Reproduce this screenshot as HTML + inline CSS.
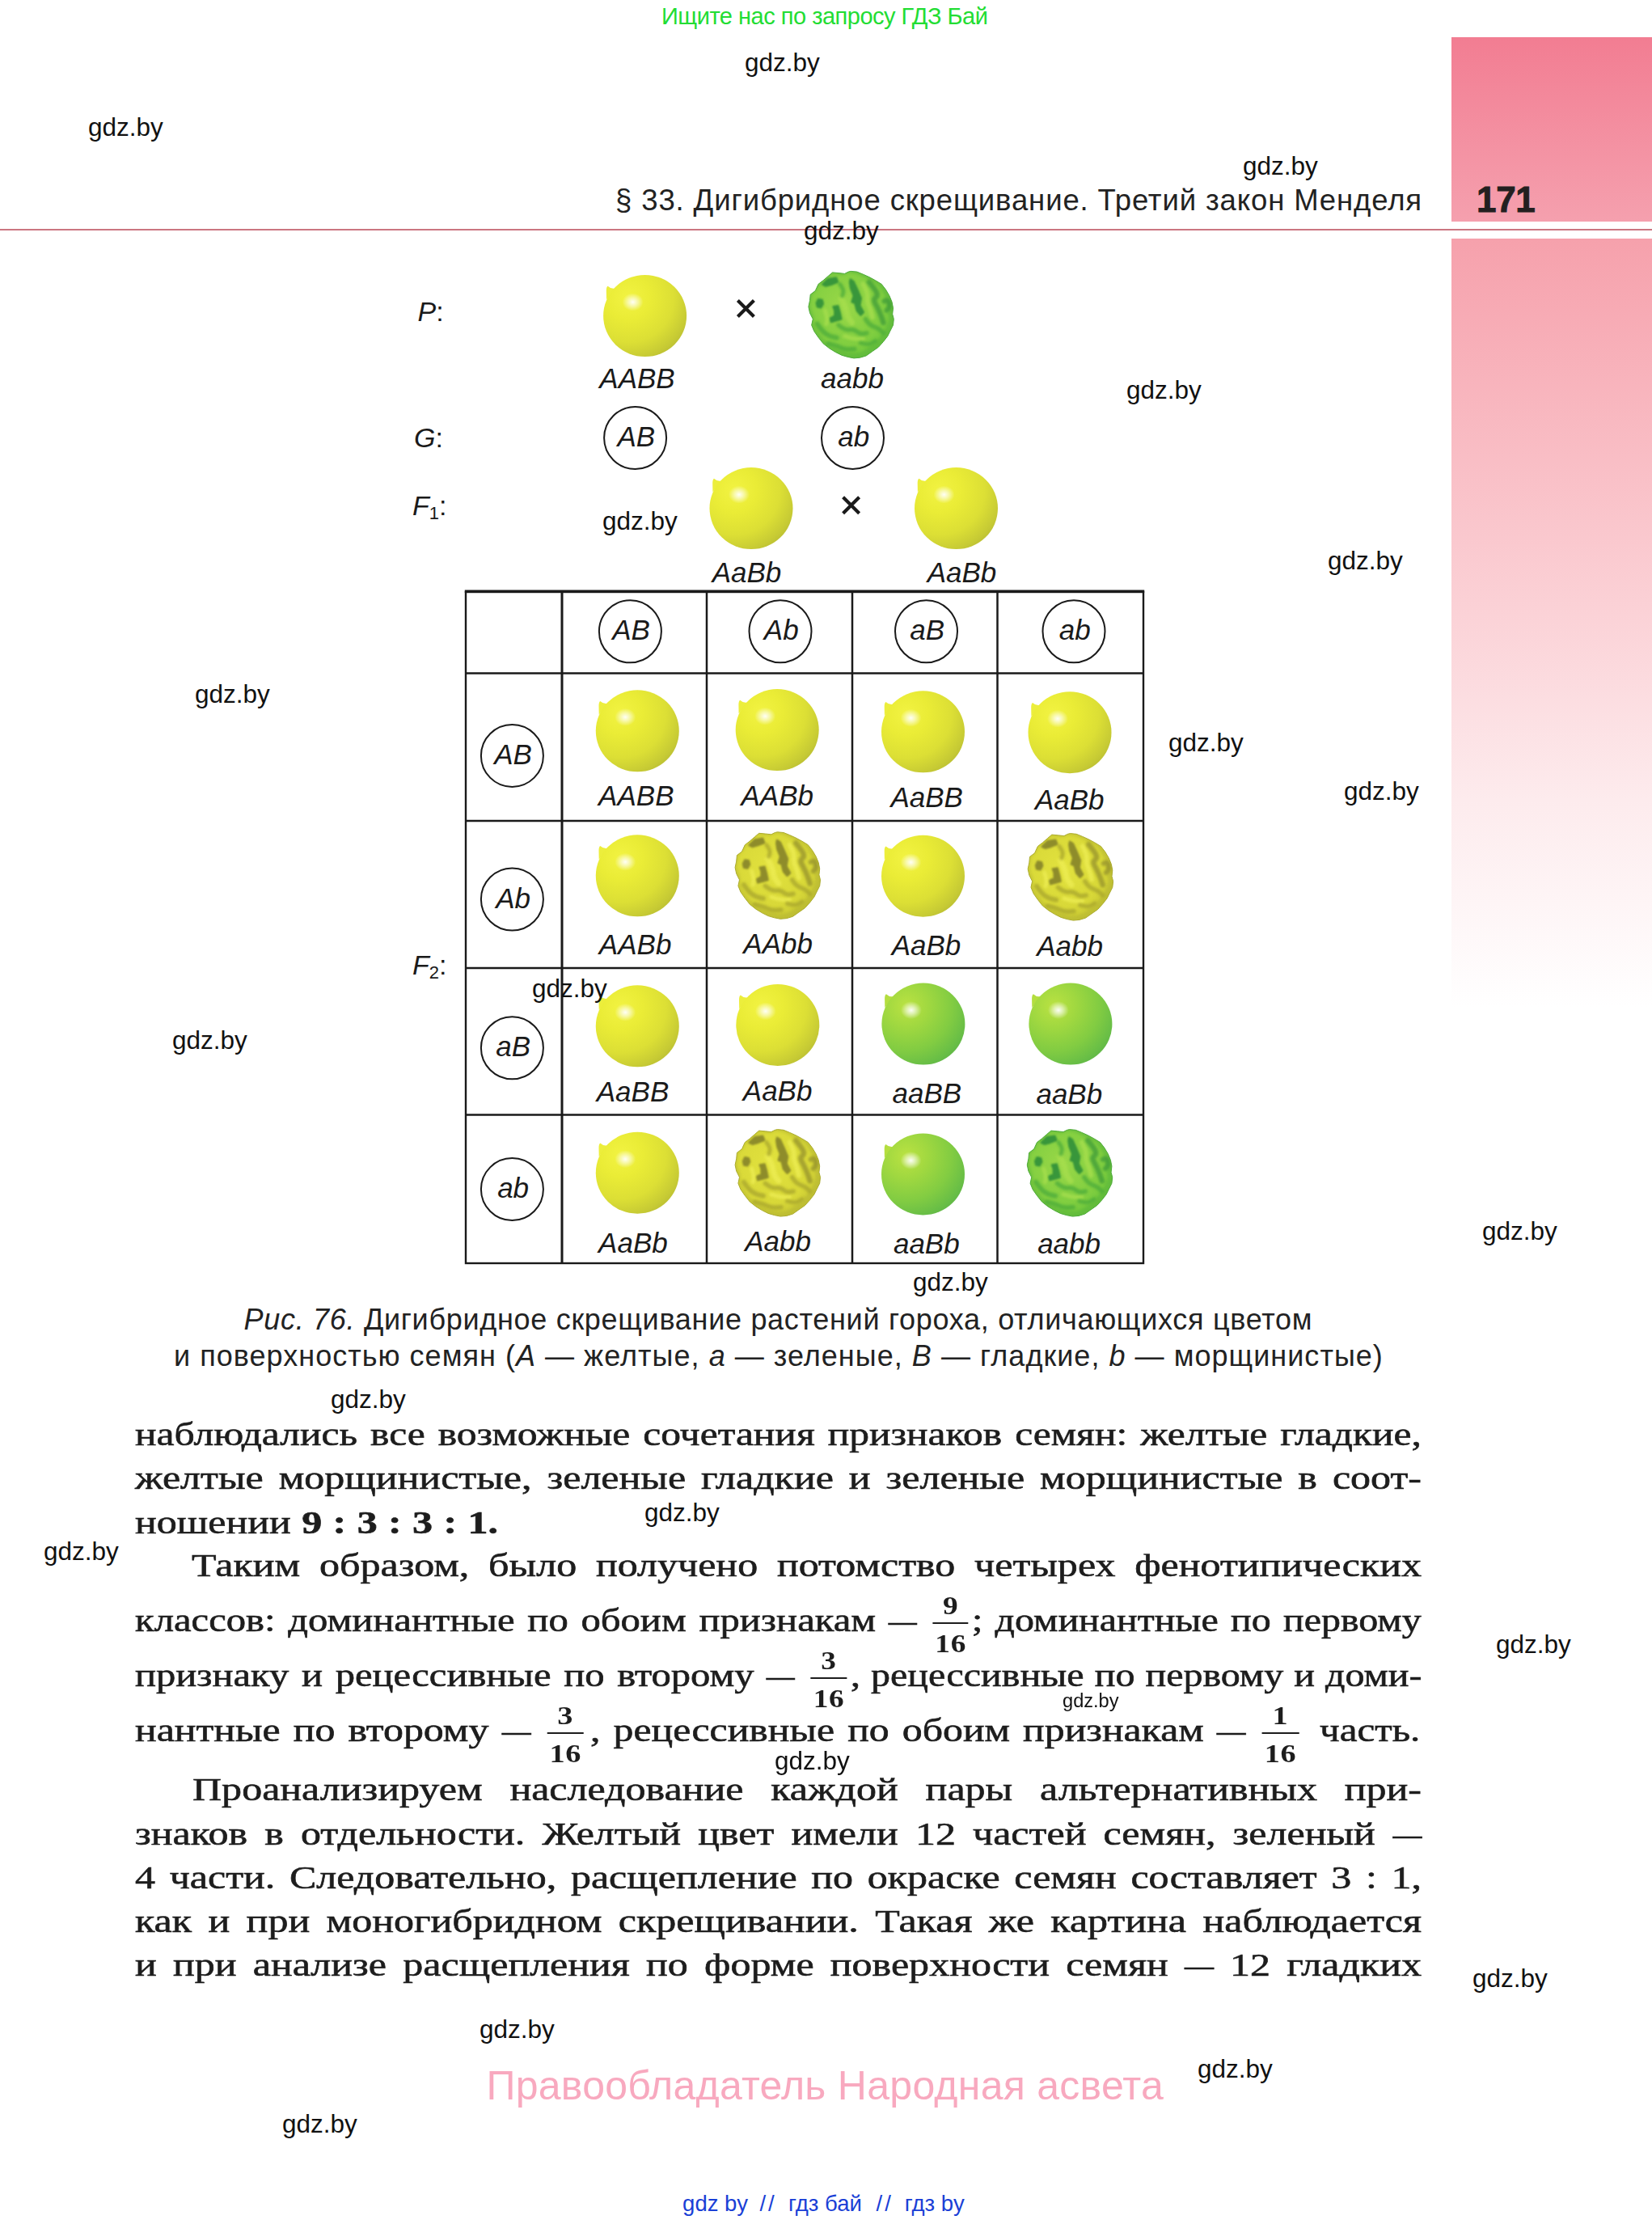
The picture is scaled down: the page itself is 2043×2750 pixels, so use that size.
<!DOCTYPE html>
<html><head><meta charset="utf-8"><title>page 171</title>
<style>
*{margin:0;padding:0;box-sizing:border-box}
html,body{width:2043px;height:2750px;background:#fff;overflow:hidden}
body{position:relative;font-family:"Liberation Sans",sans-serif;color:#1a1a1a}
.abs{position:absolute;white-space:nowrap;line-height:1}
.wm{position:absolute;white-space:nowrap;line-height:1;color:#111;font-family:"Liberation Sans",sans-serif}
.bl{position:absolute;white-space:nowrap;font-family:"Liberation Serif",serif;font-size:41px;line-height:1;color:#1d1d1d;transform-origin:0 0;-webkit-text-stroke:0.6px #1d1d1d}
.fr{display:inline-block;position:relative;height:1px;vertical-align:baseline;font-weight:bold;font-size:31.5px;line-height:1;text-align:center;word-spacing:0;-webkit-text-stroke:0}
.fn,.fd{position:absolute;left:0;right:0;text-align:center;letter-spacing:0.5px}
.fn{bottom:15px}
.d{display:inline-block;width:0.72em;transform:scaleX(0.72);transform-origin:0 50%}
.fd{top:1.5px}
.fb{position:absolute;left:3.3px;right:3.3px;top:-10px;height:2px;background:#1d1d1d}
</style></head>
<body>
<div style="position:absolute;left:1795px;top:46px;width:248px;height:228px;background:linear-gradient(#f27d92,#f5a0ae)"></div>
<div style="position:absolute;left:1795px;top:295px;width:248px;height:950px;background:linear-gradient(#f6a1ac 0%,#fbd1d6 48%,#fdebed 73%,#fff 100%)"></div>
<div style="position:absolute;left:0;top:283px;width:2043px;height:2px;background:#cb7681"></div>
<div class="abs" id="topg" style="left:818px;top:6px;font-size:29px;letter-spacing:-0.5px;color:#22dd33">Ищите нас по запросу ГДЗ Бай</div>
<div class="abs" id="hdr" style="right:284px;top:230.2px;font-size:36.5px;color:#222;letter-spacing:0.87px">§ 33. Дигибридное скрещивание. Третий закон Менделя</div>
<div class="abs" id="pgn" style="left:1826px;top:224.5px;font-size:44px;font-weight:bold;color:#231f20;-webkit-text-stroke:0.9px #231f20;letter-spacing:-0.3px">171</div>
<div class="abs" id="ftp" style="left:601.5px;top:2553.6px;font-size:50px;letter-spacing:0.27px;color:#f8a9bf">Правообладатель Народная асвета</div>
<div class="abs" id="ftb0" style="left:844.1px;top:2710.5px;font-size:27.5px;color:#1a3fd6;letter-spacing:0px">gdz by</div>
<div class="abs" id="ftb1" style="left:939.4px;top:2710.5px;font-size:27.5px;color:#1a3fd6;letter-spacing:3px">//</div>
<div class="abs" id="ftb2" style="left:975.0px;top:2710.5px;font-size:27.5px;color:#1a3fd6;letter-spacing:0px">гдз бай</div>
<div class="abs" id="ftb3" style="left:1083.6px;top:2710.5px;font-size:27.5px;color:#1a3fd6;letter-spacing:3px">//</div>
<div class="abs" id="ftb4" style="left:1118.7px;top:2710.5px;font-size:27.5px;color:#1a3fd6;letter-spacing:0px">гдз by</div>
<div class="abs" id="cap1" style="left:301.5px;top:1613.5px;font-size:36px;letter-spacing:0.70px;color:#222"><i>Рис. 76.</i> Дигибридное скрещивание растений гороха, отличающихся цветом</div>
<div class="abs" id="cap2" style="left:215px;top:1658.9px;font-size:36px;letter-spacing:1.03px;color:#222">и поверхностью семян (<i>A</i> — желтые, <i>a</i> — зеленые, <i>B</i> — гладкие, <i>b</i> — морщинистые)</div>
<div class="bl" id="L0" style="left:167px;top:1753.2px;word-spacing:3.00px;transform:scaleX(1.2080)">наблюдались все возможные сочетания признаков семян: желтые гладкие,</div>
<div class="bl" id="L1" style="left:167px;top:1807.4px;word-spacing:5.25px;transform:scaleX(1.2200)">желтые морщинистые, зеленые гладкие и зеленые морщинистые в соот-</div>
<div class="bl" id="L2" style="left:167px;top:1861.7px;word-spacing:0.72px;transform:scaleX(1.2200)">ношении <b>9 : 3 : 3 : 1.</b></div>
<div class="bl" id="L3" style="left:237px;top:1915.4px;word-spacing:9.23px;transform:scaleX(1.2200)">Таким образом, было получено потомство четырех фенотипических</div>
<div class="bl" id="L4" style="left:167px;top:1982.9px;word-spacing:3.00px;transform:scaleX(1.1870)">классов: доминантные по обоим признакам <span class="d">—</span> <span class="fr" style="width:44px"><span class="fn">9</span><span class="fb"></span><span class="fd">16</span></span></div>
<div class="bl" id="L5" style="left:1202.3px;top:1982.9px;word-spacing:2.78px;transform:scaleX(1.1700)">; доминантные по первому</div>
<div class="bl" id="L6" style="left:167px;top:2050.7px;word-spacing:3.00px;transform:scaleX(1.1849)">признаку и рецессивные по второму <span class="d">—</span> <span class="fr" style="width:44px"><span class="fn">3</span><span class="fb"></span><span class="fd">16</span></span></div>
<div class="bl" id="L7" style="left:1051.5px;top:2050.7px;word-spacing:0.94px;transform:scaleX(1.1700)">, рецессивные по первому и доми-</div>
<div class="bl" id="L8" style="left:167px;top:2118.5px;word-spacing:3.00px;transform:scaleX(1.2165)">нантные по второму <span class="d">—</span> <span class="fr" style="width:44px"><span class="fn">3</span><span class="fb"></span><span class="fd">16</span></span></div>
<div class="bl" id="L9" style="left:729.5px;top:2118.5px;word-spacing:3.00px;transform:scaleX(1.2143)">, рецессивные по обоим признакам <span class="d">—</span> <span class="fr" style="width:44px"><span class="fn">1</span><span class="fb"></span><span class="fd">16</span></span></div>
<div class="bl" id="L10" style="left:1631.7px;top:2118.5px;word-spacing:0.00px;transform:scaleX(1.1965)">часть.</div>
<div class="bl" id="L11" style="left:238px;top:2191.7px;word-spacing:17.48px;transform:scaleX(1.2200)">Проанализируем наследование каждой пары альтернативных при-</div>
<div class="bl" id="L12" style="left:167px;top:2246.8px;word-spacing:7.05px;transform:scaleX(1.2200)">знаков в отдельности. Желтый цвет имели 12 частей семян, зеленый <span class="d">—</span></div>
<div class="bl" id="L13" style="left:167px;top:2301.0px;word-spacing:4.20px;transform:scaleX(1.2200)">4 части. Следовательно, расщепление по окраске семян составляет 3 : 1,</div>
<div class="bl" id="L14" style="left:167px;top:2354.9px;word-spacing:6.47px;transform:scaleX(1.2200)">как и при моногибридном скрещивании. Такая же картина наблюдается</div>
<div class="bl" id="L15" style="left:167px;top:2408.7px;word-spacing:6.32px;transform:scaleX(1.2200)">и при анализе расщепления по форме поверхности семян <span class="d">—</span> 12 гладких</div>
<svg width="2043" height="1650" viewBox="0 0 2043 1650" style="position:absolute;left:0;top:0" font-family="Liberation Sans, sans-serif" fill="#1a1a1a"><defs><radialGradient id="gy" cx="0.30" cy="0.28" r="0.88" fx="0.30" fy="0.28">
<stop offset="0" stop-color="#f2f342"/><stop offset="0.3" stop-color="#eaec36"/><stop offset="0.62" stop-color="#dcdf35"/><stop offset="0.85" stop-color="#c6ca34"/><stop offset="1" stop-color="#b2b632"/></radialGradient>
<radialGradient id="gg" cx="0.30" cy="0.28" r="0.88" fx="0.30" fy="0.28">
<stop offset="0" stop-color="#bae242"/><stop offset="0.3" stop-color="#a0d840"/><stop offset="0.62" stop-color="#82cc42"/><stop offset="0.85" stop-color="#68be46"/><stop offset="1" stop-color="#58b048"/></radialGradient>
<radialGradient id="hl" cx="0.5" cy="0.5" r="0.5"><stop offset="0" stop-color="#fff" stop-opacity="0.95"/><stop offset="0.45" stop-color="#fff" stop-opacity="0.55"/><stop offset="1" stop-color="#fff" stop-opacity="0"/></radialGradient>
<radialGradient id="gyw" cx="0.42" cy="0.4" r="0.7"><stop offset="0" stop-color="#e2e23e"/><stop offset="0.65" stop-color="#d8d838"/><stop offset="1" stop-color="#bebe32"/></radialGradient>
<radialGradient id="ggw" cx="0.42" cy="0.4" r="0.7"><stop offset="0" stop-color="#9ad848"/><stop offset="0.65" stop-color="#80ce40"/><stop offset="1" stop-color="#62c23a"/></radialGradient>
<g id="py"><path d="M-37,-34 Q-42,-33 -46,-36.8 Q-47.8,-35.5 -47.8,-31 L-47.6,-20 Z" fill="#ecee3c"/>
<ellipse cx="0" cy="0" rx="51.5" ry="50.5" fill="url(#gy)"/>
<ellipse cx="-15" cy="-17" rx="13" ry="11" fill="url(#hl)"/></g><g id="pg"><path d="M-37,-34 Q-42,-33 -46,-36.8 Q-47.8,-35.5 -47.8,-31 L-47.6,-20 Z" fill="#b4de40"/>
<ellipse cx="0" cy="0" rx="51.5" ry="50.5" fill="url(#gg)"/>
<ellipse cx="-15" cy="-17" rx="13" ry="11" fill="url(#hl)"/></g><filter id="bl1" x="-20%" y="-20%" width="140%" height="140%"><feGaussianBlur stdDeviation="1.1"/></filter><filter id="bl2" x="-20%" y="-20%" width="140%" height="140%"><feGaussianBlur stdDeviation="1.8"/></filter><clipPath id="wclip"><path d="M-0.4,-53.6L7.2,-52.9L14.8,-49.8L22.3,-46.4L29.9,-42.3L37.5,-37.7L42.8,-30.9L47.3,-23.3L50.4,-15.8L51.9,-8.2L51.1,-0.6L52.7,5.5L51.9,13.0L48.1,20.6L45.1,26.7L39.8,33.5L33.7,40.3L26.1,45.6L18.6,50.9L11.0,53.2L3.4,53.9L-4.2,52.4L-11.7,50.2L-19.3,46.4L-26.9,41.8L-34.5,35.8L-40.5,28.2L-45.8,20.6L-48.9,13.0L-47.3,5.5L-51.1,-2.1L-52.7,-9.7L-51.1,-17.3L-50.4,-24.8L-44.3,-29.4L-40.5,-37.7L-34.5,-42.3L-28.4,-47.6L-23.1,-52.1L-15.5,-51.4L-8.0,-50.6L-3.4,-52.9Z"/></clipPath><g id="pyw"><path d="M-0.4,-53.6L7.2,-52.9L14.8,-49.8L22.3,-46.4L29.9,-42.3L37.5,-37.7L42.8,-30.9L47.3,-23.3L50.4,-15.8L51.9,-8.2L51.1,-0.6L52.7,5.5L51.9,13.0L48.1,20.6L45.1,26.7L39.8,33.5L33.7,40.3L26.1,45.6L18.6,50.9L11.0,53.2L3.4,53.9L-4.2,52.4L-11.7,50.2L-19.3,46.4L-26.9,41.8L-34.5,35.8L-40.5,28.2L-45.8,20.6L-48.9,13.0L-47.3,5.5L-51.1,-2.1L-52.7,-9.7L-51.1,-17.3L-50.4,-24.8L-44.3,-29.4L-40.5,-37.7L-34.5,-42.3L-28.4,-47.6L-23.1,-52.1L-15.5,-51.4L-8.0,-50.6L-3.4,-52.9Z" fill="url(#gyw)" stroke="#acac30" stroke-width="1" stroke-linejoin="round"/><g clip-path="url(#wclip)"><path d="M-1.9,-53.3Q-0.4,-53.6 3.4,-53.3Q7.2,-52.9 11.0,-51.4Q14.8,-49.8 18.6,-48.1Q22.3,-46.4 26.1,-44.4Q29.9,-42.3 33.7,-40.0Q37.5,-37.7 40.2,-34.3Q42.8,-30.9 45.1,-27.1Q47.3,-23.3 48.9,-19.5Q50.4,-15.8 51.1,-12.0Q51.9,-8.2 51.5,-4.4Q51.1,-0.6 51.9,2.4Q52.7,5.5 52.3,9.2Q51.9,13.0 50.0,16.8Q48.1,20.6 46.6,23.6Q45.1,26.7 42.4,30.1Q39.8,33.5 36.7,36.9Q33.7,40.3 29.9,43.0Q26.1,45.6 22.3,48.3Q18.6,50.9 14.8,52.0Q11.0,53.2 7.2,53.6Q3.4,53.9 -0.4,53.2Q-4.2,52.4 -8.0,51.3Q-11.7,50.2 -15.5,48.3Q-19.3,46.4 -23.1,44.1Q-26.9,41.8 -30.7,38.8Q-34.5,35.8 -37.5,32.0Q-40.5,28.2 -43.2,24.4Q-45.8,20.6 -47.3,16.8Q-48.9,13.0 -48.1,9.2Q-47.3,5.5 -49.2,1.7Q-51.1,-2.1 -51.9,-5.9Q-52.7,-9.7 -51.9,-13.5Q-51.1,-17.3 -50.8,-21.1Q-50.4,-24.8 -47.3,-27.1Q-44.3,-29.4 -42.4,-33.6Q-40.5,-37.7 -37.5,-40.0Q-34.5,-42.3 -31.4,-44.9Q-28.4,-47.6 -25.8,-49.8Q-23.1,-52.1 -19.3,-51.7Q-15.5,-51.4 -11.7,-51.0Q-8.0,-50.6 -5.7,-51.7Q-3.4,-52.9 -1.9,-53.3Z" fill="none" stroke="#acac30" stroke-width="8" opacity="0.35" filter="url(#bl2)" transform="translate(-2,-2)"/><g filter="url(#bl2)" opacity="0.8"><path d="M14.8,-37.7Q20.8,-27.1 20.1,-22.2Q19.3,-17.3 21.6,-12.0Q23.9,-6.7 25.0,-1.7L26.1,3.2" fill="none" stroke="#ecec52" stroke-width="6" stroke-linecap="round"/><path d="M-12.5,-20.3Q-6.4,-9.7 -5.7,-3.6Q-4.9,2.4 -1.9,6.2L1.1,10.0" fill="none" stroke="#ecec52" stroke-width="7" stroke-linecap="round"/><path d="M-32.2,-5.2Q-29.2,3.9 -29.9,7.7L-30.7,11.5" fill="none" stroke="#ecec52" stroke-width="5" stroke-linecap="round"/><path d="M-8.0,26.7Q3.4,30.5 9.1,30.1L14.8,29.7" fill="none" stroke="#ecec52" stroke-width="5" stroke-linecap="round"/></g><g filter="url(#bl2)" opacity="0.85"><path d="M22.3,-40.0Q29.9,-30.9 31.6,-27.1Q33.3,-23.3 30.3,-20.9Q27.3,-18.4 29.5,-14.4Q31.8,-10.5 34.7,-4.0Q37.5,2.4 38.6,6.2L39.8,10.0" fill="none" stroke="#8e8c2a" stroke-width="6.5" stroke-linecap="round" opacity="0.8"/><path d="M40.9,-16.5Q45.1,-19.5 46.6,-14.6Q48.1,-9.7 46.0,-7.4L43.9,-5.2" fill="none" stroke="#8e8c2a" stroke-width="6" stroke-linecap="round" opacity="0.8"/><path d="M-42.0,11.5Q-36.0,20.6 -31.4,23.6Q-26.9,26.7 -22.3,27.6L-17.8,28.6" fill="none" stroke="#a8a62e" stroke-width="6" stroke-linecap="round" opacity="0.9"/><path d="M-15.5,13.0Q-8.0,19.5 -2.3,18.7Q3.4,18.0 7.2,21.2Q11.0,24.4 15.2,23.6L19.3,22.9" fill="none" stroke="#a8a62e" stroke-width="5.5" stroke-linecap="round" opacity="0.9"/><path d="M17.8,5.5Q22.3,13.0 28.0,14.9Q33.7,16.8 36.7,19.8L39.8,22.9" fill="none" stroke="#a8a62e" stroke-width="5.5" stroke-linecap="round" opacity="0.9"/><path d="M-28.4,35.8Q-18.6,38.0 -13.3,40.7Q-8.0,43.3 -1.9,43.0L4.2,42.6" fill="none" stroke="#a8a62e" stroke-width="5.5" stroke-linecap="round" opacity="0.9"/><path d="M11.7,35.0Q20.8,38.0 25.4,35.4L29.9,32.7" fill="none" stroke="#a8a62e" stroke-width="5" stroke-linecap="round" opacity="0.9"/><path d="M-14.0,-37.7Q-8.7,-30.9 -9.8,-27.1L-11.0,-23.3" fill="none" stroke="#a8a62e" stroke-width="5" stroke-linecap="round" opacity="0.9"/></g><g filter="url(#bl1)"><path d="M-35.2,-37.3L-28.4,-43.8L-18.6,-45.5L-16.7,-40.4L-24.6,-37.3L-31.4,-35.5Z" fill="#8e8c2a" stroke="#8e8c2a" stroke-width="2.6" stroke-linejoin="round"/><path d="M-0.8,-43.4L3.0,-40.8L7.6,-30.9L12.1,-20.3L10.6,-11.2L15.2,-2.9L11.7,0.5L7.2,-4.8L4.8,-14.2L1.0,-15.6L3.3,-23.3L-0.4,-32.4L-1.5,-40.0Z" fill="#8e8c2a" stroke="#8e8c2a" stroke-width="2.6" stroke-linejoin="round"/><path d="M-42.8,-14.2L-40.5,-18.8L-36.0,-18.0L-34.8,-13.5L-37.5,-8.9L-41.7,-9.7Z" fill="#8e8c2a" stroke="#8e8c2a" stroke-width="2.6" stroke-linejoin="round"/><path d="M-22.0,-9.7L-16.3,-10.6L-13.9,-2.1L-12.3,5.5L-18.6,7.3L-24.6,8.9L-25.5,4.7L-20.1,1.7L-20.2,-5.2Z" fill="#8e8c2a" stroke="#8e8c2a" stroke-width="2.6" stroke-linejoin="round"/></g></g></g><g id="pgw"><path d="M-0.4,-53.6L7.2,-52.9L14.8,-49.8L22.3,-46.4L29.9,-42.3L37.5,-37.7L42.8,-30.9L47.3,-23.3L50.4,-15.8L51.9,-8.2L51.1,-0.6L52.7,5.5L51.9,13.0L48.1,20.6L45.1,26.7L39.8,33.5L33.7,40.3L26.1,45.6L18.6,50.9L11.0,53.2L3.4,53.9L-4.2,52.4L-11.7,50.2L-19.3,46.4L-26.9,41.8L-34.5,35.8L-40.5,28.2L-45.8,20.6L-48.9,13.0L-47.3,5.5L-51.1,-2.1L-52.7,-9.7L-51.1,-17.3L-50.4,-24.8L-44.3,-29.4L-40.5,-37.7L-34.5,-42.3L-28.4,-47.6L-23.1,-52.1L-15.5,-51.4L-8.0,-50.6L-3.4,-52.9Z" fill="url(#ggw)" stroke="#4eaa3a" stroke-width="1" stroke-linejoin="round"/><g clip-path="url(#wclip)"><path d="M-1.9,-53.3Q-0.4,-53.6 3.4,-53.3Q7.2,-52.9 11.0,-51.4Q14.8,-49.8 18.6,-48.1Q22.3,-46.4 26.1,-44.4Q29.9,-42.3 33.7,-40.0Q37.5,-37.7 40.2,-34.3Q42.8,-30.9 45.1,-27.1Q47.3,-23.3 48.9,-19.5Q50.4,-15.8 51.1,-12.0Q51.9,-8.2 51.5,-4.4Q51.1,-0.6 51.9,2.4Q52.7,5.5 52.3,9.2Q51.9,13.0 50.0,16.8Q48.1,20.6 46.6,23.6Q45.1,26.7 42.4,30.1Q39.8,33.5 36.7,36.9Q33.7,40.3 29.9,43.0Q26.1,45.6 22.3,48.3Q18.6,50.9 14.8,52.0Q11.0,53.2 7.2,53.6Q3.4,53.9 -0.4,53.2Q-4.2,52.4 -8.0,51.3Q-11.7,50.2 -15.5,48.3Q-19.3,46.4 -23.1,44.1Q-26.9,41.8 -30.7,38.8Q-34.5,35.8 -37.5,32.0Q-40.5,28.2 -43.2,24.4Q-45.8,20.6 -47.3,16.8Q-48.9,13.0 -48.1,9.2Q-47.3,5.5 -49.2,1.7Q-51.1,-2.1 -51.9,-5.9Q-52.7,-9.7 -51.9,-13.5Q-51.1,-17.3 -50.8,-21.1Q-50.4,-24.8 -47.3,-27.1Q-44.3,-29.4 -42.4,-33.6Q-40.5,-37.7 -37.5,-40.0Q-34.5,-42.3 -31.4,-44.9Q-28.4,-47.6 -25.8,-49.8Q-23.1,-52.1 -19.3,-51.7Q-15.5,-51.4 -11.7,-51.0Q-8.0,-50.6 -5.7,-51.7Q-3.4,-52.9 -1.9,-53.3Z" fill="none" stroke="#4eaa3a" stroke-width="8" opacity="0.35" filter="url(#bl2)" transform="translate(-2,-2)"/><g filter="url(#bl2)" opacity="0.8"><path d="M14.8,-37.7Q20.8,-27.1 20.1,-22.2Q19.3,-17.3 21.6,-12.0Q23.9,-6.7 25.0,-1.7L26.1,3.2" fill="none" stroke="#a6de4e" stroke-width="6" stroke-linecap="round"/><path d="M-12.5,-20.3Q-6.4,-9.7 -5.7,-3.6Q-4.9,2.4 -1.9,6.2L1.1,10.0" fill="none" stroke="#a6de4e" stroke-width="7" stroke-linecap="round"/><path d="M-32.2,-5.2Q-29.2,3.9 -29.9,7.7L-30.7,11.5" fill="none" stroke="#a6de4e" stroke-width="5" stroke-linecap="round"/><path d="M-8.0,26.7Q3.4,30.5 9.1,30.1L14.8,29.7" fill="none" stroke="#a6de4e" stroke-width="5" stroke-linecap="round"/></g><g filter="url(#bl2)" opacity="0.85"><path d="M22.3,-40.0Q29.9,-30.9 31.6,-27.1Q33.3,-23.3 30.3,-20.9Q27.3,-18.4 29.5,-14.4Q31.8,-10.5 34.7,-4.0Q37.5,2.4 38.6,6.2L39.8,10.0" fill="none" stroke="#38963a" stroke-width="6.5" stroke-linecap="round" opacity="0.8"/><path d="M40.9,-16.5Q45.1,-19.5 46.6,-14.6Q48.1,-9.7 46.0,-7.4L43.9,-5.2" fill="none" stroke="#38963a" stroke-width="6" stroke-linecap="round" opacity="0.8"/><path d="M-42.0,11.5Q-36.0,20.6 -31.4,23.6Q-26.9,26.7 -22.3,27.6L-17.8,28.6" fill="none" stroke="#4cac3a" stroke-width="6" stroke-linecap="round" opacity="0.9"/><path d="M-15.5,13.0Q-8.0,19.5 -2.3,18.7Q3.4,18.0 7.2,21.2Q11.0,24.4 15.2,23.6L19.3,22.9" fill="none" stroke="#4cac3a" stroke-width="5.5" stroke-linecap="round" opacity="0.9"/><path d="M17.8,5.5Q22.3,13.0 28.0,14.9Q33.7,16.8 36.7,19.8L39.8,22.9" fill="none" stroke="#4cac3a" stroke-width="5.5" stroke-linecap="round" opacity="0.9"/><path d="M-28.4,35.8Q-18.6,38.0 -13.3,40.7Q-8.0,43.3 -1.9,43.0L4.2,42.6" fill="none" stroke="#4cac3a" stroke-width="5.5" stroke-linecap="round" opacity="0.9"/><path d="M11.7,35.0Q20.8,38.0 25.4,35.4L29.9,32.7" fill="none" stroke="#4cac3a" stroke-width="5" stroke-linecap="round" opacity="0.9"/><path d="M-14.0,-37.7Q-8.7,-30.9 -9.8,-27.1L-11.0,-23.3" fill="none" stroke="#4cac3a" stroke-width="5" stroke-linecap="round" opacity="0.9"/></g><g filter="url(#bl1)"><path d="M-35.2,-37.3L-28.4,-43.8L-18.6,-45.5L-16.7,-40.4L-24.6,-37.3L-31.4,-35.5Z" fill="#38963a" stroke="#38963a" stroke-width="2.6" stroke-linejoin="round"/><path d="M-0.8,-43.4L3.0,-40.8L7.6,-30.9L12.1,-20.3L10.6,-11.2L15.2,-2.9L11.7,0.5L7.2,-4.8L4.8,-14.2L1.0,-15.6L3.3,-23.3L-0.4,-32.4L-1.5,-40.0Z" fill="#38963a" stroke="#38963a" stroke-width="2.6" stroke-linejoin="round"/><path d="M-42.8,-14.2L-40.5,-18.8L-36.0,-18.0L-34.8,-13.5L-37.5,-8.9L-41.7,-9.7Z" fill="#38963a" stroke="#38963a" stroke-width="2.6" stroke-linejoin="round"/><path d="M-22.0,-9.7L-16.3,-10.6L-13.9,-2.1L-12.3,5.5L-18.6,7.3L-24.6,8.9L-25.5,4.7L-20.1,1.7L-20.2,-5.2Z" fill="#38963a" stroke="#38963a" stroke-width="2.6" stroke-linejoin="round"/></g></g></g></defs><text x="516.5" y="397" style="font-size:34px"><tspan style="font-style:italic">P</tspan>:</text><use href="#py" x="797.6" y="390.5"/><path d="M912.4,371.5L932.4,391.5M932.4,371.5L912.4,391.5" stroke="#1a1a1a" stroke-width="4.2" fill="none"/><use href="#pgw" x="1052.6" y="389"/><text x="788" y="480" text-anchor="middle" style="font-style:italic;font-size:35px" >AABB</text><text x="1054" y="480" text-anchor="middle" style="font-style:italic;font-size:35px" >aabb</text><text x="512" y="553" style="font-size:34px"><tspan style="font-style:italic">G</tspan>:</text><circle cx="785.6" cy="541.5" r="38.5" fill="#fff" stroke="#1a1a1a" stroke-width="2"/><text x="786.8000000000001" y="552.1" text-anchor="middle" style="font-style:italic;font-size:35px" >AB</text><circle cx="1054.5" cy="541.5" r="38.5" fill="#fff" stroke="#1a1a1a" stroke-width="2"/><text x="1055.7" y="552.1" text-anchor="middle" style="font-style:italic;font-size:35px" >ab</text><text x="510" y="637" style="font-size:34px"><tspan style="font-style:italic">F</tspan><tspan style="font-size:22px" dy="5">1</tspan><tspan dy="-5">:</tspan></text><use href="#py" x="929" y="628.6"/><path d="M1042.6,614.8L1062.6,634.8M1062.6,614.8L1042.6,634.8" stroke="#1a1a1a" stroke-width="4.2" fill="none"/><use href="#py" x="1182.5" y="628.6"/><text x="923.5" y="719.5" text-anchor="middle" style="font-style:italic;font-size:35px" >AaBb</text><text x="1189.5" y="719.5" text-anchor="middle" style="font-style:italic;font-size:35px" >AaBb</text><text x="510" y="1205" style="font-size:34px"><tspan style="font-style:italic">F</tspan><tspan style="font-size:22px" dy="5">2</tspan><tspan dy="-5">:</tspan></text><g stroke="#1a1a1a" stroke-width="2.4" fill="none"><rect x="576" y="732" width="838" height="830"/><path d="M574.8,731.2H1415.2" stroke-width="3.6"/><path d="M695,732V1562" stroke-width="3.0"/><path d="M874,732V1562" stroke-width="2.5"/><path d="M1054,732V1562" stroke-width="2.5"/><path d="M1233.5,732V1562" stroke-width="2.5"/><path d="M576,832.5H1414"/><path d="M576,1015H1414"/><path d="M576,1197H1414"/><path d="M576,1378.5H1414"/></g><circle cx="779.4" cy="780.8" r="38.5" fill="#fff" stroke="#1a1a1a" stroke-width="2"/><text x="780.6" y="791.4" text-anchor="middle" style="font-style:italic;font-size:35px" >AB</text><circle cx="965" cy="780.8" r="38.5" fill="#fff" stroke="#1a1a1a" stroke-width="2"/><text x="966.2" y="791.4" text-anchor="middle" style="font-style:italic;font-size:35px" >Ab</text><circle cx="1145.5" cy="780.8" r="38.5" fill="#fff" stroke="#1a1a1a" stroke-width="2"/><text x="1146.7" y="791.4" text-anchor="middle" style="font-style:italic;font-size:35px" >aB</text><circle cx="1328" cy="780.8" r="38.5" fill="#fff" stroke="#1a1a1a" stroke-width="2"/><text x="1329.2" y="791.4" text-anchor="middle" style="font-style:italic;font-size:35px" >ab</text><circle cx="633.4" cy="934.4" r="38.5" fill="#fff" stroke="#1a1a1a" stroke-width="2"/><text x="634.6" y="945.0" text-anchor="middle" style="font-style:italic;font-size:35px" >AB</text><circle cx="633.4" cy="1112" r="38.5" fill="#fff" stroke="#1a1a1a" stroke-width="2"/><text x="634.6" y="1122.6" text-anchor="middle" style="font-style:italic;font-size:35px" >Ab</text><circle cx="633.4" cy="1295.7" r="38.5" fill="#fff" stroke="#1a1a1a" stroke-width="2"/><text x="634.6" y="1306.3" text-anchor="middle" style="font-style:italic;font-size:35px" >aB</text><circle cx="633.4" cy="1470.6" r="38.5" fill="#fff" stroke="#1a1a1a" stroke-width="2"/><text x="634.6" y="1481.1999999999998" text-anchor="middle" style="font-style:italic;font-size:35px" >ab</text><use href="#py" x="788.3" y="903.8"/><text x="786.8" y="996.2" text-anchor="middle" style="font-style:italic;font-size:35px" >AABB</text><use href="#py" x="961.2" y="902.6"/><text x="961.2" y="995.7" text-anchor="middle" style="font-style:italic;font-size:35px" >AABb</text><use href="#py" x="1141.5" y="904.8"/><text x="1146.2" y="998.4" text-anchor="middle" style="font-style:italic;font-size:35px" >AaBB</text><use href="#py" x="1323" y="905.7"/><text x="1322.7" y="1000.5" text-anchor="middle" style="font-style:italic;font-size:35px" >AaBb</text><use href="#py" x="788.3" y="1082.8"/><text x="785.6" y="1180.1" text-anchor="middle" style="font-style:italic;font-size:35px" >AABb</text><use href="#pyw" x="961.8" y="1082.4"/><text x="962.1" y="1179.2" text-anchor="middle" style="font-style:italic;font-size:35px" >AAbb</text><use href="#py" x="1141.5" y="1083.2"/><text x="1145.5" y="1181.4" text-anchor="middle" style="font-style:italic;font-size:35px" >AaBb</text><use href="#pyw" x="1323.9" y="1084.2"/><text x="1323.0" y="1182.3" text-anchor="middle" style="font-style:italic;font-size:35px" >Aabb</text><use href="#py" x="788.3" y="1268.8"/><text x="782.5" y="1362.3" text-anchor="middle" style="font-style:italic;font-size:35px" >AaBB</text><use href="#py" x="961.8" y="1267.4"/><text x="961.6" y="1361.4" text-anchor="middle" style="font-style:italic;font-size:35px" >AaBb</text><use href="#pg" x="1141.9" y="1266.1"/><text x="1146.4" y="1363.6" text-anchor="middle" style="font-style:italic;font-size:35px" >aaBB</text><use href="#pg" x="1323.9" y="1266.1"/><text x="1322.3" y="1364.9" text-anchor="middle" style="font-style:italic;font-size:35px" >aaBb</text><use href="#py" x="788.3" y="1450.2"/><text x="782.9" y="1548.6" text-anchor="middle" style="font-style:italic;font-size:35px" >AaBb</text><use href="#pyw" x="961.8" y="1450.2"/><text x="962.1" y="1547.3" text-anchor="middle" style="font-style:italic;font-size:35px" >Aabb</text><use href="#pg" x="1141.5" y="1451.9"/><text x="1145.8" y="1549.9" text-anchor="middle" style="font-style:italic;font-size:35px" >aaBb</text><use href="#pgw" x="1323" y="1450.2"/><text x="1322.1" y="1549.9" text-anchor="middle" style="font-style:italic;font-size:35px" >aabb</text></svg>
<div class="wm" id="wm0" style="left:921px;top:62.0px;font-size:31.50px">gdz.by</div>
<div class="wm" id="wm1" style="left:109px;top:142.0px;font-size:31.50px">gdz.by</div>
<div class="wm" id="wm2" style="left:1537px;top:190.0px;font-size:31.50px">gdz.by</div>
<div class="wm" id="wm3" style="left:994px;top:270.0px;font-size:31.50px">gdz.by</div>
<div class="wm" id="wm4" style="left:1393px;top:467.0px;font-size:31.50px">gdz.by</div>
<div class="wm" id="wm5" style="left:745px;top:629.0px;font-size:31.50px">gdz.by</div>
<div class="wm" id="wm6" style="left:1642px;top:678.0px;font-size:31.50px">gdz.by</div>
<div class="wm" id="wm7" style="left:241px;top:843.0px;font-size:31.50px">gdz.by</div>
<div class="wm" id="wm8" style="left:1445px;top:903.0px;font-size:31.50px">gdz.by</div>
<div class="wm" id="wm9" style="left:1662px;top:963.0px;font-size:31.50px">gdz.by</div>
<div class="wm" id="wm10" style="left:658px;top:1207.0px;font-size:31.50px">gdz.by</div>
<div class="wm" id="wm11" style="left:213px;top:1271.0px;font-size:31.50px">gdz.by</div>
<div class="wm" id="wm12" style="left:1833px;top:1507.0px;font-size:31.50px">gdz.by</div>
<div class="wm" id="wm13" style="left:1129px;top:1570.0px;font-size:31.50px">gdz.by</div>
<div class="wm" id="wm14" style="left:409px;top:1715.0px;font-size:31.50px">gdz.by</div>
<div class="wm" id="wm15" style="left:797px;top:1855.0px;font-size:31.50px">gdz.by</div>
<div class="wm" id="wm16" style="left:54px;top:1903.0px;font-size:31.50px">gdz.by</div>
<div class="wm" id="wm17" style="left:1850px;top:2018.0px;font-size:31.50px">gdz.by</div>
<div class="wm" id="wm18" style="left:1314px;top:2092.3px;font-size:23.62px">gdz.by</div>
<div class="wm" id="wm19" style="left:958px;top:2162.0px;font-size:31.50px">gdz.by</div>
<div class="wm" id="wm20" style="left:1821px;top:2431.0px;font-size:31.50px">gdz.by</div>
<div class="wm" id="wm21" style="left:593px;top:2494.0px;font-size:31.50px">gdz.by</div>
<div class="wm" id="wm22" style="left:1481px;top:2543.0px;font-size:31.50px">gdz.by</div>
<div class="wm" id="wm23" style="left:349px;top:2611.0px;font-size:31.50px">gdz.by</div>
<!--TEXT-->
</body></html>
